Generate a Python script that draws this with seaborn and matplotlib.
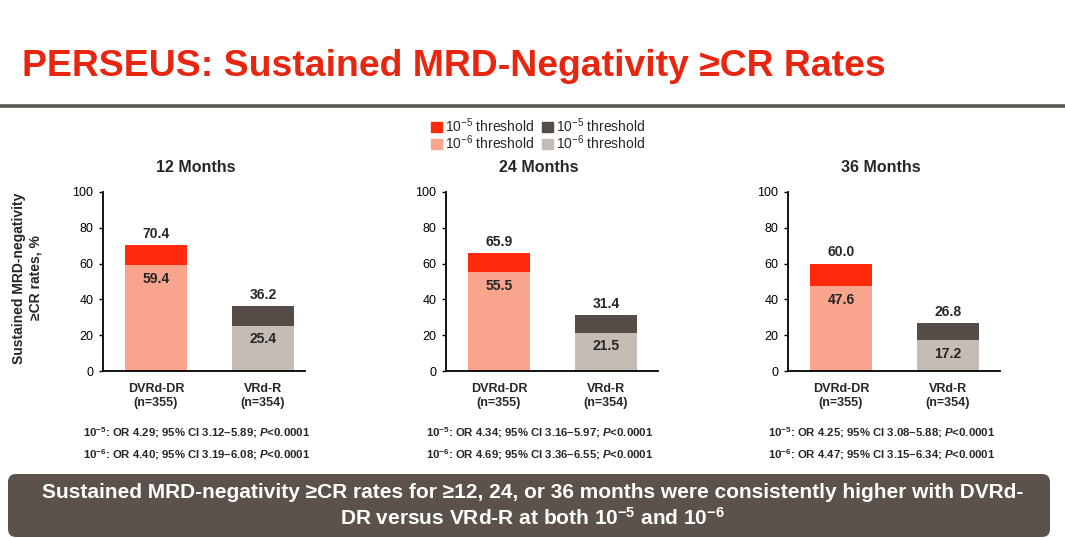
import numpy as np
import pandas as pd
import matplotlib
matplotlib.use("Agg")
from matplotlib import pyplot as plt
from matplotlib.patches import Patch, FancyBboxPatch
from matplotlib.lines import Line2D
import matplotlib.transforms as mtransforms
import seaborn as sns

# данные
months = [12, 24, 36]
arms = ["DVRd-DR\n(n=355)", "VRd-R\n(n=354)"]
rate_1e5_dvrd = [70.4, 65.9, 60.0]
rate_1e5_vrd = [36.2, 31.4, 26.8]
rate_1e6_dvrd = [59.4, 55.5, 47.6]
rate_1e6_vrd = [25.4, 21.5, 17.2]
or_1e5 = [4.29, 4.34, 4.25]
ci_1e5 = [(3.12, 5.89), (3.16, 5.97), (3.08, 5.88)]
or_1e6 = [4.40, 4.69, 4.47]
ci_1e6 = [(3.19, 6.08), (3.36, 6.55), (3.15, 6.34)]

col_top = {arms[0]: "#FF2A0C", arms[1]: "#554C47"}
col_bottom = {arms[0]: "#F9A48D", arms[1]: "#C5BCB6"}

sns.set_style("ticks")
plt.rcParams['font.family'] = ['Liberation Sans', 'DejaVu Sans']
plt.rcParams['mathtext.fontset'] = 'custom'
plt.rcParams['mathtext.it'] = 'Liberation Sans:italic:bold'
plt.rcParams['mathtext.rm'] = 'Liberation Sans:bold'
plt.rcParams['mathtext.bf'] = 'Liberation Sans:bold'
plt.rcParams['mathtext.sf'] = 'Liberation Sans'

W, H = 1065, 538
fig = plt.figure(figsize=(W / 100, H / 100), dpi=100)

def fx(px):
    return px / W

def fy(py):
    return 1 - py / H

# заголовок
fig.text(fx(22), fy(66), "PERSEUS: Sustained MRD-Negativity ≥CR Rates",
         ha="left", va="center", fontsize=26.9, fontweight="bold", color="#E8260F")
fig.add_artist(Line2D([0, 1], [fy(106), fy(106)], transform=fig.transFigure,
                      color="#5B5752", lw=2.6))

# панели
spines_x = [103, 446, 788]
widths = [202, 212, 212]
unit = 107
for i, m in enumerate(months):
    ax = fig.add_axes([fx(spines_x[i]), fy(371), widths[i] / W, 179 / H])
    df_top = pd.DataFrame({"arm": arms, "rate": [rate_1e5_dvrd[i], rate_1e5_vrd[i]]})
    df_bot = pd.DataFrame({"arm": arms, "rate": [rate_1e6_dvrd[i], rate_1e6_vrd[i]]})
    sns.barplot(data=df_top, x="arm", y="rate", hue="arm", palette=col_top,
                width=0.58, legend=False, ax=ax, saturation=1, linewidth=0)
    sns.barplot(data=df_bot, x="arm", y="rate", hue="arm", palette=col_bottom,
                width=0.58, legend=False, ax=ax, saturation=1, linewidth=0)
    for j in range(2):
        top = df_top.rate[j]
        bot = df_bot.rate[j]
        ax.annotate(f"{top:.1f}", (j, top), xytext=(0, 3), textcoords="offset points",
                    ha="center", va="bottom", fontsize=10, fontweight="bold")
        ax.annotate(f"{bot:.1f}", (j, bot), xytext=(0, -5), textcoords="offset points",
                    ha="center", va="top", fontsize=10, fontweight="bold")
    ax.set_ylim(0, 100)
    ax.set_yticks(range(0, 101, 20))
    ax.set_xlim(-0.495, -0.495 + widths[i] / unit)
    ax.set_xlabel("")
    ax.set_ylabel("")
    sns.despine(ax=ax)
    for s in ["left", "bottom"]:
        ax.spines[s].set_color("black")
        ax.spines[s].set_linewidth(1.3)
    ax.tick_params(axis="y", length=3, width=1, pad=4, labelsize=9, colors="black")
    ax.tick_params(axis="x", length=0, pad=8.5)
    for lab in ax.get_xticklabels():
        lab.set_fontsize(9)
        lab.set_fontweight("bold")
    trans = mtransforms.blended_transform_factory(ax.transData, fig.transFigure)
    ax.text(0.375, fy(168), f"{m} Months", transform=trans, ha="center", va="center",
            fontsize=11.5, fontweight="bold")
    ax.text(0.375, fy(433),
            f"10$^{{-5}}$: OR {or_1e5[i]:.2f}; 95% CI {ci_1e5[i][0]:.2f}–{ci_1e5[i][1]:.2f}; $P$<0.0001",
            transform=trans, ha="center", va="center", fontsize=8.2, fontweight="bold")
    ax.text(0.375, fy(455),
            f"10$^{{-6}}$: OR {or_1e6[i]:.2f}; 95% CI {ci_1e6[i][0]:.2f}–{ci_1e6[i][1]:.2f}; $P$<0.0001",
            transform=trans, ha="center", va="center", fontsize=8.2, fontweight="bold")

fig.text(fx(27), fy(278), "Sustained MRD-negativity\n≥CR rates, %", rotation=90,
         ha="center", va="center", fontsize=10, fontweight="bold", multialignment="center")

# легенда
handles = [Patch(color=col_top[arms[0]]), Patch(color=col_bottom[arms[0]]),
           Patch(color=col_top[arms[1]]), Patch(color=col_bottom[arms[1]])]
labels = [r"$\mathsf{10^{-5}}$ threshold", r"$\mathsf{10^{-6}}$ threshold",
          r"$\mathsf{10^{-5}}$ threshold", r"$\mathsf{10^{-6}}$ threshold"]
fig.legend(handles, labels, loc="center", bbox_to_anchor=(fx(538), fy(134)), ncol=2,
           frameon=False, fontsize=10, handlelength=0.8, handleheight=0.8,
           handletextpad=0.2, columnspacing=0.6, labelspacing=-0.1, borderpad=0)

# плашка внизу
box = FancyBboxPatch((8 / 100, 1 / 100), 1042 / 100, 63 / 100,
                     boxstyle="round,pad=0,rounding_size=0.08",
                     transform=fig.dpi_scale_trans, facecolor="#5A524B", edgecolor="none")
fig.add_artist(box)
fig.text(0.5, fy(493), "Sustained MRD-negativity ≥CR rates for ≥12, 24, or 36 months were consistently higher with DVRd-",
         ha="center", va="center", fontsize=15, fontweight="bold", color="white")
fig.text(0.5, fy(518), "DR versus VRd-R at both 10$^{-5}$ and 10$^{-6}$",
         ha="center", va="center", fontsize=15, fontweight="bold", color="white")

fig.savefig("out.png", dpi=100)
